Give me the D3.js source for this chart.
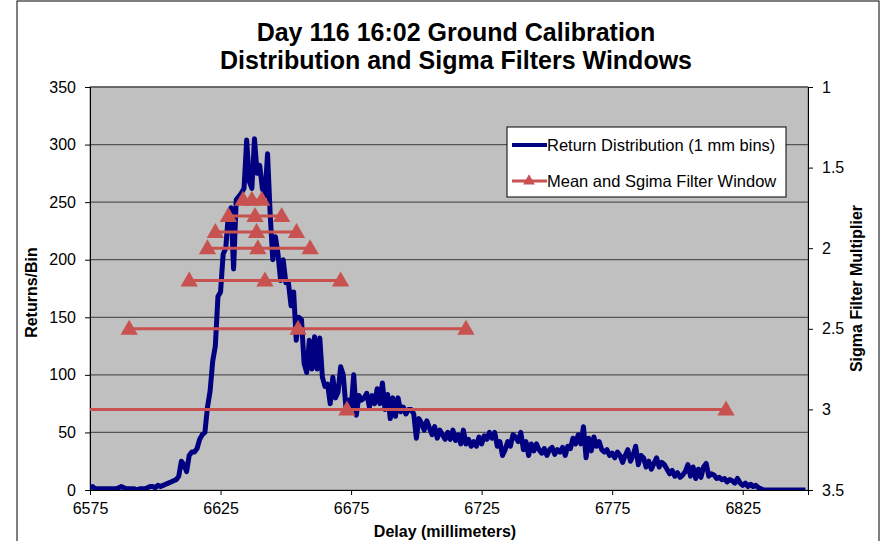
<!DOCTYPE html>
<html>
<head>
<meta charset="utf-8">
<script src="https://cdn.jsdelivr.net/npm/d3@7"></script>
<style>
  body { margin: 0; background: #fff; }
  text { font-family: "Liberation Sans", Arial, sans-serif; fill: #000; }
</style>
</head>
<body>
<div id="chart"></div>
<script>
// return counts per 1 mm bin, starting at 6575 mm
var startDelay = 6575;
var counts = [
  2,3,1,1,1,1,1,1,1,1, 1,2,3,2,1,1,1,1,0,1, 1,1,2,3,3,2,4,3,4,5,
  6,7,8,9,12,25,22,16,30,33, 33,36,44,48,50,72,86,112,125,168,
  172,205,210,240,245,192,252,255,258,262, 304,268,262,305,275,282,262,255,292,240,
  200,220,205,182,200,180,180,160,172,130, 150,148,110,102,130,105,133,105,132,98,
  90,92,75,98,80,85,107,100,72,78, 70,100,65,82,78,80,84,72,82,75,
  88,75,93,70,83,62,80,64,80,68, 72,66,70,70,66,45,62,58,52,60,
  54,48,55,45,52,48,44,50,44,52, 43,48,40,52,40,44,38,42,38,46,
  40,47,44,50,45,50,38,42,30,35, 42,38,48,46,42,50,35,42,30,40,
  34,40,35,32,36,30,35,37,31,35, 33,37,30,38,36,45,40,48,40,55,
  28,45,34,46,38,42,35,33,35,30, 32,28,33,30,24,30,35,25,30,38,
  22,30,28,20,25,18,23,28,20,24, 22,18,14,17,12,15,11,13,16,22,
  12,20,10,18,11,20,23,12,14,13, 10,11,9,10,7,9,8,6,10,6,
  4,6,3,5,3,4,2,1,0,0, 0,0,0,0,0,0,0,0,0,0, 0,0,0,0,0
];

// sigma filter windows: multiplier, lower edge, mean, upper edge (mm)
var sigmaLevels = [3.0, 2.5, 2.2, 2.0, 1.9, 1.8, 1.7];
var windowLow   = [6528, 6590, 6613, 6620, 6623, 6628, 6633.6];
var windowMean  = [6673.4, 6654.7, 6642, 6639.3, 6638.8, 6638.2, 6637];
var windowHigh  = [6818.6, 6719, 6671, 6659.3, 6654.1, 6648.4, 6640.8];

var xTicks = [6575, 6625, 6675, 6725, 6775, 6825];
var yTicks = [0, 50, 100, 150, 200, 250, 300, 350];
var y2Ticks = [1, 1.5, 2, 2.5, 3, 3.5];

var width = 885, height = 541;
var plot = { left: 90, right: 808, top: 87, bottom: 490 };
var font = '"Liberation Sans", Arial, sans-serif';

var svg = d3.select('#chart').append('svg')
  .attr('width', width)
  .attr('height', height);

svg.append('rect')
  .attr('x', 17).attr('y', 1)
  .attr('width', 862).attr('height', 560)
  .attr('fill', '#fff')
  .attr('stroke', '#000')
  .attr('stroke-width', 1);

var x = d3.scaleLinear().domain([6575, 6850]).range([plot.left, plot.right]);
var y = d3.scaleLinear().domain([0, 350]).range([plot.bottom, plot.top]);
var y2 = d3.scaleLinear().domain([1, 3.5]).range([plot.top, plot.bottom]);

svg.append('defs').append('clipPath').attr('id', 'clip')
  .append('rect')
  .attr('x', plot.left).attr('y', plot.top - 10)
  .attr('width', plot.right - plot.left).attr('height', plot.bottom - plot.top + 10);

// plot background
svg.append('rect')
  .attr('x', plot.left).attr('y', plot.top)
  .attr('width', plot.right - plot.left).attr('height', plot.bottom - plot.top)
  .attr('fill', '#c0c0c0')
  .attr('stroke', '#808080');

// gridlines
svg.append('g')
  .selectAll('line')
  .data(yTicks.slice(1))
  .join('line')
  .attr('x1', plot.left).attr('x2', plot.right)
  .attr('y1', d => y(d)).attr('y2', d => y(d))
  .attr('stroke', '#555')
  .attr('stroke-width', 1.3);

// axes
function styleAxis(g) {
  g.select('.domain').attr('stroke', '#000');
  g.attr('font-size', '16px').attr('font-family', font);
}

svg.append('g')
  .attr('transform', `translate(${plot.left},0)`)
  .call(d3.axisLeft(y).tickValues(yTicks).tickSize(5).tickPadding(9))
  .call(styleAxis);

svg.append('g')
  .attr('transform', `translate(${plot.right},0)`)
  .call(d3.axisRight(y2).tickValues(y2Ticks).tickSize(5).tickPadding(9)
    .tickFormat(d => String(d)))
  .call(styleAxis);

svg.append('g')
  .attr('transform', `translate(0,${plot.bottom})`)
  .call(d3.axisBottom(x).tickValues(xTicks).tickSize(5).tickPadding(8)
    .tickFormat(d3.format('d')))
  .call(styleAxis);

var plotG = svg.append('g').attr('clip-path', 'url(#clip)');

// return distribution
var line = d3.line()
  .x((d, i) => x(startDelay + i))
  .y(d => y(d));

plotG.append('path')
  .datum(counts)
  .attr('fill', 'none')
  .attr('stroke', '#000080')
  .attr('stroke-width', 5)
  .attr('stroke-linejoin', 'round')
  .attr('d', line);

// filter windows
var red = '#c8524f';
var windows = sigmaLevels.map((s, i) => ({
  s: s, lo: windowLow[i], mean: windowMean[i], hi: windowHigh[i]
}));

plotG.append('g')
  .selectAll('line')
  .data(windows)
  .join('line')
  .attr('x1', d => x(d.lo)).attr('x2', d => x(d.hi))
  .attr('y1', d => y2(d.s)).attr('y2', d => y2(d.s))
  .attr('stroke', red)
  .attr('stroke-width', 3);

var tri = d3.symbol().type(d3.symbolTriangle).size(130);
var markers = [];
windows.forEach(w => {
  markers.push([w.lo, w.s], [w.mean, w.s], [w.hi, w.s]);
});

plotG.append('g')
  .selectAll('path')
  .data(markers)
  .join('path')
  .attr('d', tri)
  .attr('transform', d => `translate(${x(d[0])},${y2(d[1]) + 1})`)
  .attr('fill', red);

// titles
svg.append('text')
  .attr('x', 456).attr('y', 41)
  .attr('text-anchor', 'middle')
  .attr('font-size', '25px').attr('font-weight', 'bold')
  .text('Day 116 16:02 Ground Calibration');
svg.append('text')
  .attr('x', 456).attr('y', 69)
  .attr('text-anchor', 'middle')
  .attr('font-size', '25px').attr('font-weight', 'bold')
  .text('Distribution and Sigma Filters Windows');

svg.append('text')
  .attr('transform', `translate(37,${(plot.top + plot.bottom) / 2 + 4}) rotate(-90)`)
  .attr('text-anchor', 'middle')
  .attr('font-size', '16px').attr('font-weight', 'bold')
  .text('Returns/Bin');

svg.append('text')
  .attr('transform', `translate(862,${(plot.top + plot.bottom) / 2}) rotate(-90)`)
  .attr('text-anchor', 'middle')
  .attr('font-size', '16px').attr('font-weight', 'bold')
  .text('Sigma Filter Multiplier');

svg.append('text')
  .attr('x', 445).attr('y', 537)
  .attr('text-anchor', 'middle')
  .attr('font-size', '16px').attr('font-weight', 'bold')
  .text('Delay (millimeters)');

// legend
var leg = svg.append('g').attr('transform', 'translate(507,127)');
leg.append('rect')
  .attr('width', 279).attr('height', 70)
  .attr('fill', '#fff').attr('stroke', '#000');
leg.append('line')
  .attr('x1', 5).attr('x2', 40).attr('y1', 18).attr('y2', 18)
  .attr('stroke', '#000080').attr('stroke-width', 4);
leg.append('text')
  .attr('x', 40).attr('y', 24).attr('font-size', '16.5px')
  .text('Return Distribution (1 mm bins)');
leg.append('line')
  .attr('x1', 5).attr('x2', 40).attr('y1', 54).attr('y2', 54)
  .attr('stroke', red).attr('stroke-width', 3);
leg.append('path')
  .attr('d', d3.symbol().type(d3.symbolTriangle).size(60))
  .attr('transform', 'translate(22,54)')
  .attr('fill', red);
leg.append('text')
  .attr('x', 40).attr('y', 60).attr('font-size', '16.5px')
  .text('Mean and Sgima Filter Window');
</script>
</body>
</html>
